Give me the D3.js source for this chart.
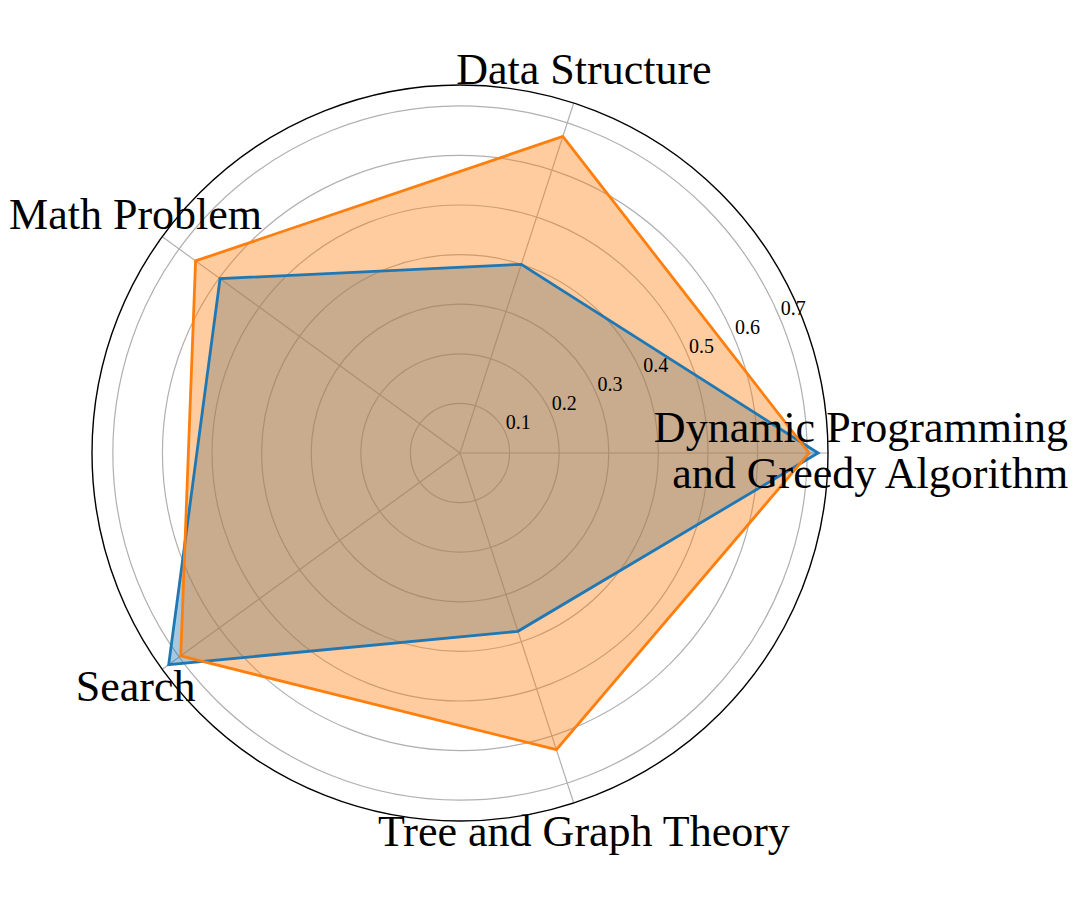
<!DOCTYPE html>
<html>
<head>
<meta charset="utf-8">
<script src="https://cdn.jsdelivr.net/npm/d3@7"></script>
<style>
  html, body { margin: 0; padding: 0; background: #fff; }
  svg { display: block; }
  text { font-family: "Liberation Serif", "Times New Roman", serif; fill: #000; }
</style>
</head>
<body>
<svg id="chart" width="1080" height="900"></svg>
<script>
// ---- data ----
const categories = [
  ["Dynamic Programming", "and Greedy Algorithm"],
  ["Data Structure"],
  ["Math Problem"],
  ["Search"],
  ["Tree and Graph Theory"]
];
const seriesBlue   = [0.722, 0.40, 0.598, 0.726, 0.378];
const seriesOrange = [0.704, 0.671, 0.659, 0.696, 0.629];
const radialTicks = [0.1, 0.2, 0.3, 0.4, 0.5, 0.6, 0.7];
const radialTickLabels = ["0.1", "0.2", "0.3", "0.4", "0.5", "0.6", "0.7"];

// ---- layout ----
const cx = 460, cy = 453;
const rMax = 0.742;
const R = 368;
const svg = d3.select("#chart");
const g = svg.append("g").attr("transform", `translate(${cx},${cy})`);

const r = d3.scaleLinear().domain([0, rMax]).range([0, R]);
const n = categories.length;
const angle = d3.scaleLinear().domain([0, n]).range([0, 2 * Math.PI]);
const px = (i, v) => r(v) * Math.cos(angle(i));
const py = (i, v) => -r(v) * Math.sin(angle(i));

// grid circles
g.selectAll("circle.grid").data(radialTicks).enter().append("circle")
  .attr("r", d => r(d)).attr("fill", "none")
  .attr("stroke", "#b0b0b0").attr("stroke-width", 1.2);

// spokes
g.selectAll("line.spoke").data(d3.range(n)).enter().append("line")
  .attr("x1", 0).attr("y1", 0)
  .attr("x2", i => px(i, rMax)).attr("y2", i => py(i, rMax))
  .attr("stroke", "#b0b0b0").attr("stroke-width", 1.2);

// fills and outlines
const lineGen = d3.line().x((d, i) => px(i, d)).y((d, i) => py(i, d)).curve(d3.curveLinearClosed);
const series = [
  { values: seriesBlue, color: "#1f77b4" },
  { values: seriesOrange, color: "#ff7f0e" }
];
series.forEach(s => {
  g.append("path").attr("d", lineGen(s.values))
    .attr("fill", s.color).attr("fill-opacity", 0.4).attr("stroke", "none");
});
series.forEach(s => {
  g.append("path").attr("d", lineGen(s.values))
    .attr("fill", "none").attr("stroke", s.color).attr("stroke-width", 2.8)
    .attr("stroke-linejoin", "miter");
});

// outer circle
g.append("circle").attr("r", R).attr("fill", "none")
  .attr("stroke", "#000").attr("stroke-width", 1.4);

// radial tick labels at 22.5 degrees
const tickAng = 22.5 * Math.PI / 180;
g.selectAll("text.rtick").data(radialTicks).enter().append("text")
  .attr("x", d => r(d) * Math.cos(tickAng))
  .attr("y", d => -r(d) * Math.sin(tickAng) - 5)
  .attr("text-anchor", "start")
  .attr("font-size", 20)
  .text((d, i) => radialTickLabels[i]);

// category labels (block centred, lines right-aligned within block)
const labR = 401;
const fs = 44;
categories.forEach((lines, i) => {
  const x = labR * Math.cos(angle(i));
  const y = -labR * Math.sin(angle(i));
  const lh = 46;
  const y0 = y - (lines.length - 1) * lh / 2;
  const t = g.append("text").attr("text-anchor", "end").attr("font-size", fs);
  const spans = lines.map((ln, k) =>
    t.append("tspan").attr("y", y0 + k * lh).attr("dy", "0.27em").text(ln));
  const widths = spans.map(s => s.node().getComputedTextLength());
  const maxW = d3.max(widths);
  spans.forEach(s => s.attr("x", x + maxW / 2));
});
</script>
</body>
</html>
